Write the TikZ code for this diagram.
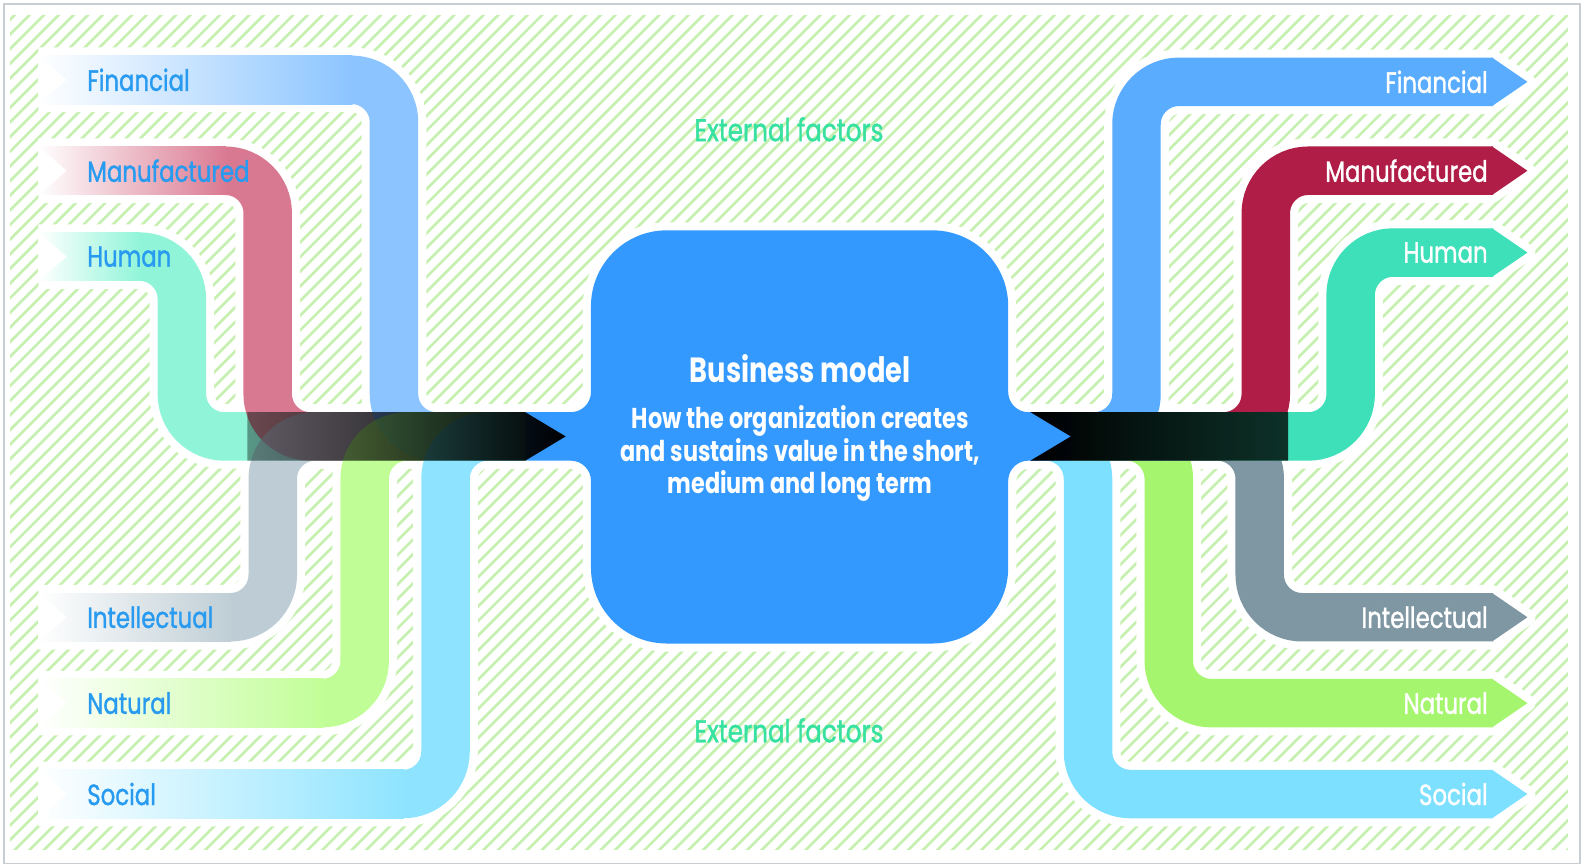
\documentclass[tikz,border=0pt]{standalone}
\usepackage{fontspec}
\setmainfont{Poppins}[FakeStretch=0.78]
\newfontfamily\labfont{Poppins}[FakeStretch=0.78, FakeBold=1.2]
\usetikzlibrary{fadings}
\definecolor{boxblue}{RGB}{51,153,255}
\definecolor{labblue}{RGB}{40,155,240}
\definecolor{extgreen}{RGB}{55,225,160}
\definecolor{hatchc}{RGB}{198,240,176}
\definecolor{framec}{RGB}{200,205,210}
\definecolor{rFin}{RGB}{90,172,255}
\definecolor{rMan}{RGB}{176,30,72}
\definecolor{rHum}{RGB}{61,224,184}
\definecolor{rInt}{RGB}{127,151,163}
\definecolor{rNat}{RGB}{165,245,110}
\definecolor{rSoc}{RGB}{125,224,255}
\definecolor{lFin}{RGB}{63,158,255}
\definecolor{lMan}{RGB}{193,33,73}
\definecolor{lHum}{RGB}{70,238,190}
\definecolor{lInt}{RGB}{148,173,185}
\definecolor{lNat}{RGB}{153,253,83}
\definecolor{lSoc}{RGB}{67,210,255}
\tikzfading[name=fadeleft, left color=transparent!62, middle color=transparent!5, right color=transparent!0]
\tikzfading[name=faderight, left color=transparent!0, middle color=transparent!0, right color=transparent!22]
\tikzset{
  hatchline/.style={draw=hatchc, line width=1.3pt},
  wout/.style={draw=white, line width=32pt, rounded corners=21pt},
  pipe/.style={line width=24pt, rounded corners=21pt},
  labL/.style={anchor=west, text=labblue, font=\labfont\fontsize{14.5}{17}\selectfont, inner sep=0pt},
  labR/.style={anchor=east, text=white, font=\labfont\fontsize{14.5}{17}\selectfont, inner sep=0pt},
  ext/.style={text=extgreen, font=\labfont\fontsize{15.6}{18}\selectfont, inner sep=0pt},
}
\newcommand\LOut[2]{\draw[wout] (38,#1) -- (#2,#1) -- (#2,432) -- (520,432);}
\newcommand\LPipe[3]{%
  \draw[pipe, #1, opacity=0.6] (#3-42,#2) -- (#3,#2) -- (#3,432) -- (520,432);
  \shade[left color=white, right color=#1!60!white] (38,#2-24) rectangle (#3-41,#2+24);
  \fill[white] (38,#2-24) -- (66,#2) -- (38,#2+24) -- cycle;}
\newcommand\ROut[2]{\draw[wout] (1020,432) -- (#2,432) -- (#2,#1) -- (1478,#1);
  \filldraw[white, line width=8pt, line join=round] (1477,#1-24) -- (1512,#1) -- (1477,#1+24) -- cycle;}
\newcommand\RPipe[3]{\draw[pipe,#1] (1020,432) -- (#3,432) -- (#3,#2) -- (1478,#2);
  \fill[#1] (1477,#2-24) -- (1512,#2) -- (1477,#2+24) -- cycle;}
\newcommand\BoxShape[1]{\path[#1] (520,408) -- (565,408) arc[start angle=90,end angle=0,radius=20]
  -- (585,303) arc[start angle=180,end angle=270,radius=75]
  -- (923,228) arc[start angle=270,end angle=360,radius=75]
  -- (998,388) arc[start angle=180,end angle=90,radius=20]
  -- (1060,408) -- (1060,456) -- (1018,456) arc[start angle=270,end angle=180,radius=20]
  -- (998,562) arc[start angle=0,end angle=90,radius=75]
  -- (660,637) arc[start angle=90,end angle=180,radius=75]
  -- (585,476) arc[start angle=0,end angle=-90,radius=20]
  -- (520,456) -- cycle;}
\begin{document}
\begin{tikzpicture}[x=0.5pt,y=-0.5pt]
\fill[white] (0,0) rectangle (1568,858);
\useasboundingbox (0,0) rectangle (1568,858);
\draw[framec, line width=0.7pt] (4,4) rectangle (1564,855);
\begin{scope}
  \clip (10,15) rectangle (1552,841);
  \foreach \x in {-830,-815.5,...,1560} \draw[hatchline] (\x,845) -- (\x+834,11);
\end{scope}
% white outlines
\LOut{79}{390} \LOut{169}{265} \LOut{254}{180} \LOut{611}{270} \LOut{696}{361} \LOut{786}{441}
\ROut{81}{1125} \ROut{169}{1253} \ROut{250}{1337} \ROut{611}{1247} \ROut{696}{1157} \ROut{786}{1077}
\draw[white, line width=8pt, line join=round] (245,408) -- (520,408) -- (560,432) -- (520,456) -- (245,456) -- cycle;
\draw[white, line width=8pt, line join=round] (1020,408) -- (1275,408) -- (1275,456) -- (1020,456) -- (1060,432) -- cycle;
\BoxShape{draw=white, line width=8pt}
% right pipes
\RPipe{rSoc}{786}{1077}
\RPipe{rNat}{696}{1157}
\RPipe{rFin}{81}{1125}
\RPipe{rInt}{611}{1247}
\RPipe{rMan}{169}{1253}
\RPipe{rHum}{250}{1337}
% central box
\BoxShape{fill=boxblue}
% left pipes
\LPipe{lHum}{254}{180}
\LPipe{lMan}{169}{265}
\LPipe{lInt}{611}{270}
\LPipe{lFin}{79}{390}
\LPipe{lNat}{696}{361}
\LPipe{lSoc}{786}{441}
% black bands
\fill[black, path fading=fadeleft] (245,408) -- (520,408) -- (560,432) -- (520,456) -- (245,456) -- cycle;
\fill[black, path fading=faderight] (1020,408) -- (1275,408) -- (1275,456) -- (1020,456) -- (1060,432) -- cycle;
% labels
\node[labL] (lfin) at (86,79) {Financial};
\node[labL] (lman) at (86,169) {Manufactured};
\node[labL] (lhum) at (86,254) {Human};
\node[labL] (lint) at (86,611) {Intellectual};
\node[labL] (lnat) at (86,696) {Natural};
\node[labL] (lsoc) at (86,786) {Social};
\node[labR] (rfin) at (1473,81) {Financial};
\node[labR] (rman) at (1473,169) {Manufactured};
\node[labR] (rhum) at (1473,250) {Human};
\node[labR] (rint) at (1473,611) {Intellectual};
\node[labR] (rnat) at (1473,696) {Natural};
\node[labR] (rsoc) at (1473,786) {Social};
\node[ext] (ext1) at (781,128) {External factors};
\node[ext] (ext2) at (781,723) {External factors};
\node[text=white, font=\fontsize{17.3}{21}\selectfont\bfseries, inner sep=0pt] (title) at (792,365) {Business model};
\node[text=white, font=\fontsize{14.2}{16}\selectfont\bfseries, align=center, inner sep=0pt] (sub) at (792,449)
  {How the organization creates\\and sustains value in the short,\\medium and long term};
\end{tikzpicture}
\end{document}
